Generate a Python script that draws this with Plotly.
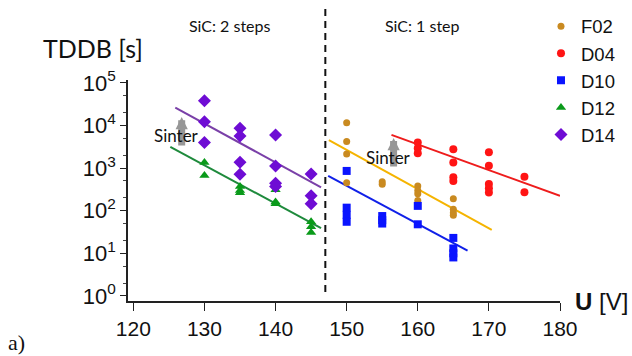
import plotly.graph_objects as go

# ---- data ----
F02_x = [150, 150, 150, 150, 155, 155, 160, 160, 160, 160, 165, 165, 165, 165]
F02_y = [11700, 4200, 2150, 455, 480, 420, 380, 300, 250, 173, 190, 108, 90, 78]

D04_x = [160, 160, 160, 165, 165, 165, 165, 170, 170, 170, 170, 170, 175, 175]
D04_y = [4000, 2950, 2230, 2770, 1350, 610, 500, 2360, 1140, 425, 336, 267, 630, 272]

D10_x = [150, 150, 150, 150, 155, 155, 155, 160, 160, 165, 165, 165, 165]
D10_y = [860, 118, 80, 55, 75, 60, 50, 130, 48, 23, 13, 10, 8]

D12_x = [130, 130, 135, 135, 135, 140, 140, 140, 145, 145, 145]
D12_y = [1350, 670, 370, 300, 265, 310, 160, 145, 55, 42, 31]

D14_x = [130, 130, 130, 135, 135, 135, 135, 140, 140, 140, 140, 145, 145, 145]
D14_y = [38000, 12300, 4000, 8700, 5700, 1380, 720, 6000, 1120, 440, 370, 730, 225, 145]

# fitted trend lines (end points)
F02_fit_x = [147.5, 170.4]
F02_fit_y = [4570, 35.5]
D04_fit_x = [156.3, 180.0]
D04_fit_y = [6030, 224]
D10_fit_x = [147.4, 167.0]
D10_fit_y = [660, 11.5]
D12_fit_x = [125.2, 146.4]
D12_fit_y = [3160, 39]
D14_fit_x = [125.9, 146.4]
D14_fit_y = [26300, 355]

x_ticks = [120, 130, 140, 150, 160, 170, 180]
y_ticks = [1, 10, 100, 1000, 10000, 100000]
y_ticktext = ["10<sup>%d</sup>" % i for i in range(6)]
split_voltage = 147

series = [
    ("F02", F02_x, F02_y, F02_fit_x, F02_fit_y, "circle", 7, "#C98A20", "#F5B400"),
    ("D04", D04_x, D04_y, D04_fit_x, D04_fit_y, "circle", 8, "#FF1414", "#EE1C1C"),
    ("D10", D10_x, D10_y, D10_fit_x, D10_fit_y, "square", 8, "#0A14FF", "#1020E8"),
    ("D12", D12_x, D12_y, D12_fit_x, D12_fit_y, "triangle-up", 9, "#0A9A1A", "#1E8A3C"),
    ("D14", D14_x, D14_y, D14_fit_x, D14_fit_y, "diamond", 10, "#6E0CD4", "#7A40A8"),
]

fig = go.Figure()
for name, xs, ys, fx, fy, sym, size, mcol, lcol in series:
    fig.add_trace(go.Scatter(x=fx, y=fy, mode="lines", showlegend=False,
                             line=dict(color=lcol, width=2), hoverinfo="skip"))
for name, xs, ys, fx, fy, sym, size, mcol, lcol in series:
    fig.add_trace(go.Scatter(x=xs, y=ys, mode="markers", name=name,
                             marker=dict(symbol=sym, size=size, color=mcol,
                                         line=dict(width=0))))

gill = "Lato, 'Open Sans', sans-serif"
arial = "'Liberation Sans', Arial, sans-serif"

fig.update_layout(
    width=632, height=356,
    margin=dict(l=128, r=72, t=80, b=55, autoexpand=False),
    paper_bgcolor="white", plot_bgcolor="white",
    showlegend=True,
    legend=dict(x=0.956, xanchor="left", y=1.327, yanchor="top",
                font=dict(family=arial, size=18.5, color="#111"),
                itemwidth=30, bgcolor="rgba(0,0,0,0)", borderwidth=0),
    xaxis=dict(range=[119.25, 180], tickvals=x_ticks, ticks="outside", ticklen=8,
               tickcolor="#222", showline=True, linecolor="#222", linewidth=1.5,
               showgrid=False, zeroline=False, automargin=False,
               tickfont=dict(family=arial, size=21, color="#111")),
    yaxis=dict(type="log", range=[-0.12, 5.07], tickvals=y_ticks, ticktext=y_ticktext,
               ticks="outside", ticklen=6, tickcolor="#222",
               minor=dict(ticks="outside", ticklen=3, tickcolor="#444", showgrid=False),
               showline=True, linecolor="#222", linewidth=1.5,
               showgrid=False, zeroline=False, automargin=False,
               tickfont=dict(family=arial, size=22, color="#111")),
    shapes=[dict(type="line", xref="x", yref="paper", x0=split_voltage, x1=split_voltage,
                 y0=0.041, y1=1.326, line=dict(color="#111", width=2, dash="7px,5px"))],
)

ann = []
# Sinter arrows (drawn first so that text overlays them)
for ax_x, tip in [(126.8, 4.20), (156.6, 3.71)]:
    ann.append(dict(x=ax_x, y=tip, xref="x", yref="y", text="", showarrow=True,
                    ax=0, ay=30, arrowhead=2, arrowsize=0.35, arrowwidth=7,
                    arrowcolor="rgba(140,140,140,0.9)"))
for sx, sy in [(126.0, 3.76), (155.9, 3.26)]:
    ann.append(dict(x=sx, y=sy, xref="x", yref="y", text="Sinter", showarrow=False,
                    font=dict(family=gill, size=17, color="#111")))
ann += [
    dict(x=-0.081, y=1.145, xref="paper", yref="paper", text="TDDB [s]", showarrow=False,
         xanchor="center", yanchor="middle", font=dict(family=gill, size=25, color="#111")),
    dict(x=1.03, y=0.0, xref="paper", yref="paper", text="<b>U</b> [V]", showarrow=False,
         xanchor="left", yanchor="middle", font=dict(family=arial, size=24, color="#111")),
    dict(x=0.234, y=1.245, xref="paper", yref="paper", text="SiC: 2 steps", showarrow=False,
         xanchor="center", yanchor="middle", font=dict(family=gill, size=16, color="#111")),
    dict(x=0.681, y=1.245, xref="paper", yref="paper", text="SiC: 1 step", showarrow=False,
         xanchor="center", yanchor="middle", font=dict(family=gill, size=16, color="#111")),
    dict(x=-0.257, y=-0.186, xref="paper", yref="paper", text="a)", showarrow=False,
         xanchor="center", yanchor="middle",
         font=dict(family="'Liberation Serif', serif", size=22, color="#111")),
]
fig.update_layout(annotations=ann)

fig.write_html("out.html", config={"displayModeBar": False},
               post_script="document.body.style.margin='0px';document.body.style.padding='0px';")
